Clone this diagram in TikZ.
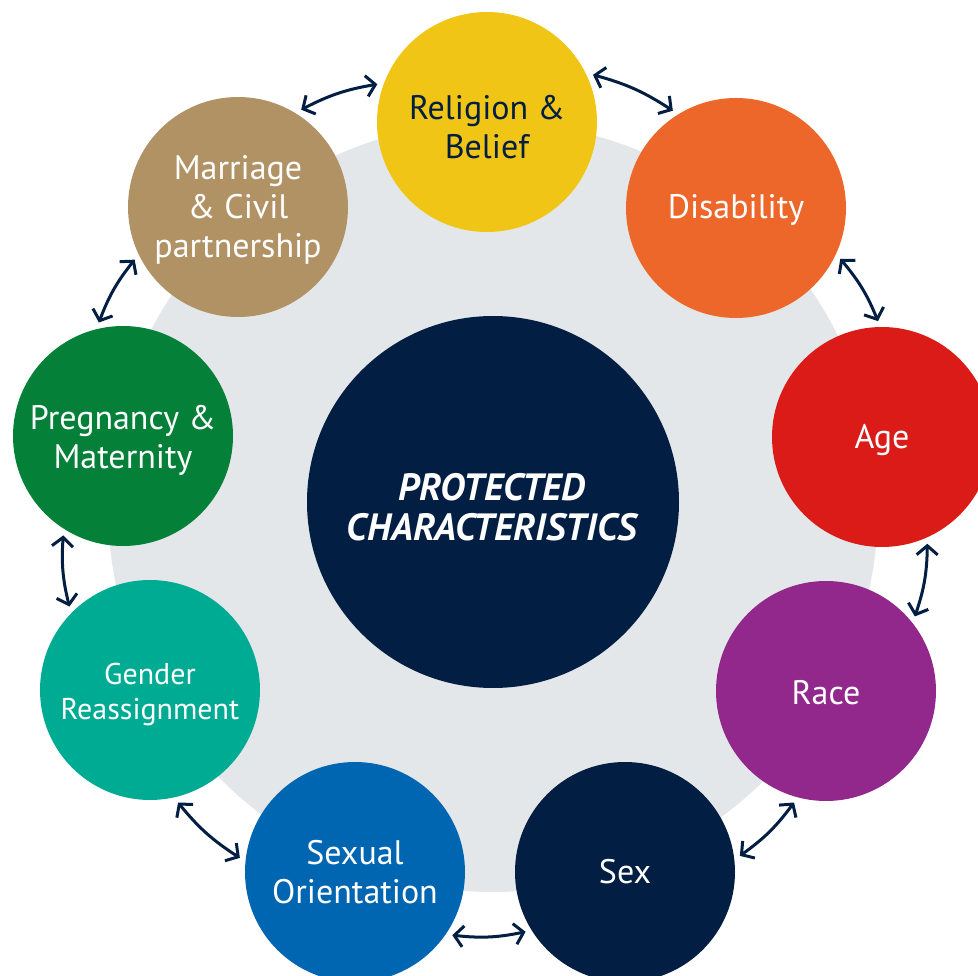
\documentclass[tikz,border=0pt]{standalone}
\usepackage{fontspec}
\setmainfont{PT Sans}
\usetikzlibrary{arrows.meta}
\definecolor{bgGrey}{HTML}{E4E7EA}
\definecolor{navy}{HTML}{021E42}
\definecolor{cYellow}{HTML}{F1C515}
\definecolor{cOrange}{HTML}{EC6729}
\definecolor{cRed}{HTML}{DA1B17}
\definecolor{cPurple}{HTML}{92278C}
\definecolor{cBlue}{HTML}{0066B2}
\definecolor{cTeal}{HTML}{00AB93}
\definecolor{cGreen}{HTML}{048038}
\definecolor{cTan}{HTML}{B09265}
\tikzset{
  disc/.style={circle, minimum size=220pt, inner sep=0pt, outer sep=6pt, fill=#1},
  lbl/.style={align=center, text=white, font=\fontsize{34}{39}\selectfont},
  conn/.style={draw=navy, line width=3pt, {Straight Barb[length=9pt,width=21pt]}-{Straight Barb[length=9pt,width=21pt]}, bend left=9},
}
\begin{document}
\begin{tikzpicture}[x=1pt,y=-1pt]
\useasboundingbox (0,0) rectangle (978,976);
\clip (0,0) rectangle (978,976);
\fill[bgGrey] (493,507) circle[radius=385];
\node[circle, minimum size=372pt, inner sep=0pt, fill=navy] (core) at (493,502) {};
\node[align=center, text=white, font=\fontsize{38}{40}\selectfont\bfseries\itshape] (coretxt) at (492,507) {PROTECTED\\CHARACTERISTICS};

\node[disc=cYellow] (rel) at (487,122) {};
\node[disc=cOrange] (dis) at (736,208) {};
\node[disc=cRed] (age) at (882,437) {};
\node[disc=cPurple] (race) at (826,691) {};
\node[disc=navy] (sex) at (625,872) {};
\node[disc=cBlue] (so) at (355,872) {};
\node[disc=cTeal] (gen) at (150,690) {};
\node[disc=cGreen] (preg) at (123,436) {};
\node[disc=cTan] (mar) at (238,207) {};

\node[lbl, text=navy] (relt) at (487,127) {Religion \&\\Belief};
\node[lbl] (dist) at (736,210) {Disability};
\node[lbl] (aget) at (882,440) {Age};
\node[lbl] (racet) at (826,693) {Race};
\node[lbl] (sext) at (625,872) {Sex};
\node[lbl] (sot) at (355,872) {Sexual\\Orientation};
\node[lbl, font=\fontsize{30}{35}\selectfont] (gent) at (150,694) {Gender\\Reassignment};
\node[lbl] (pregt) at (123,440) {Pregnancy \&\\Maternity};
\node[lbl] (mart) at (238,210) {Marriage\\\& Civil\\partnership};

\draw[conn] (mar.57) to (rel.161);
\draw[conn] (rel.24) to (dis.123);
\draw[conn] (dis.-26) to (age.92);
\draw[conn] (age.-67) to (race.40);
\draw[conn] (race.-106) to (sex.8);
\draw[conn] (sex.211) to (so.-33);
\draw[conn] (so.173) to (gen.-76);
\draw[conn] (gen.134) to (preg.239);
\draw[conn] (preg.102) to (mar.207);
\end{tikzpicture}
\end{document}
